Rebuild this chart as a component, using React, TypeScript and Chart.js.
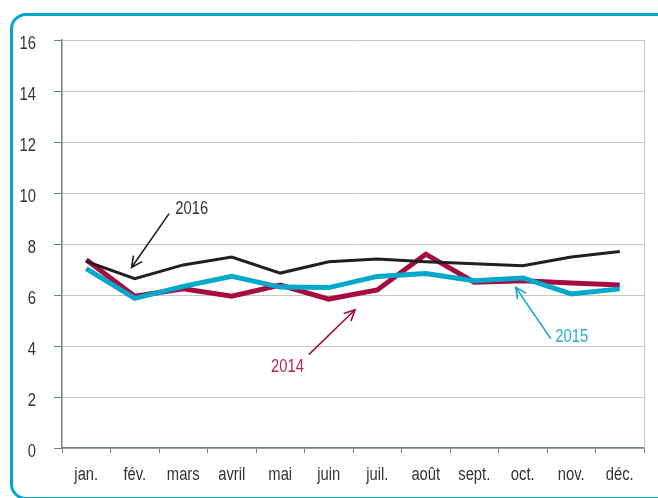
import React, { useEffect, useRef } from "react";
import { Chart, registerables } from "chart.js";

Chart.register(...registerables);

const months = ["jan.", "fév.", "mars", "avril", "mai", "juin", "juil.", "août", "sept.", "oct.", "nov.", "déc."];
const values2014 = [7.38, 5.95, 6.24, 5.95, 6.39, 5.84, 6.2, 7.6, 6.5, 6.56, 6.47, 6.39];
const values2015 = [7.03, 5.87, 6.34, 6.73, 6.31, 6.29, 6.73, 6.84, 6.56, 6.67, 6.04, 6.24];
const values2016 = [7.32, 6.64, 7.18, 7.49, 6.86, 7.3, 7.41, 7.3, 7.23, 7.15, 7.49, 7.71];
const yTicks = [0, 2, 4, 6, 8, 10, 12, 14, 16];

const FONT = "'Liberation Sans', Arial, sans-serif";
const FONT_SIZE = 18;
const NARROW = 0.82; // horizontal squeeze to imitate a condensed face
const C2014 = "#a50d42";
const C2015 = "#00a8cc";
const C2016 = "#231f20";

// annotations in data units (category index, value); text position is baseline centre
const annotations = [
  { label: "2016", color: "#333333", lineColor: "#231f20", text: [2.175, 9.19], tail: [1.708, 9.19], tip: [0.934, 7.08] },
  { label: "2014", color: "#b3265a", lineColor: "#a50d42", text: [4.15, 3.0], tail: [4.588, 3.66], tip: [5.543, 5.42] },
  { label: "2015", color: "#27aed2", lineColor: "#10a8cc", text: [10.01, 4.14], tail: [9.576, 4.29], tip: [8.856, 6.3] },
];

function narrowText(ctx: CanvasRenderingContext2D, text: string, x: number, y: number, align: CanvasTextAlign, color: string) {
  ctx.save();
  ctx.translate(x, y);
  ctx.scale(NARROW, 1);
  ctx.font = `${FONT_SIZE}px ${FONT}`;
  ctx.fillStyle = color;
  ctx.textAlign = align;
  ctx.textBaseline = "alphabetic";
  ctx.fillText(text, 0, 0);
  ctx.restore();
}

const annotationPlugin = {
  id: "annots",
  afterDraw(chart: any) {
    const { ctx, scales, chartArea } = chart;
    const xs = scales.x;
    const ys = scales.y;
    ctx.save();
    // right border
    ctx.strokeStyle = "#c8c8c8";
    ctx.lineWidth = 1;
    ctx.beginPath();
    ctx.moveTo(chartArea.right + 0.5, chartArea.top);
    ctx.lineTo(chartArea.right + 0.5, chartArea.bottom);
    ctx.stroke();
    // tick labels (condensed)
    months.forEach((m, i) => {
      narrowText(ctx, m, xs.getPixelForValue(i), chartArea.bottom + 31.5, "center", "#333333");
    });
    yTicks.forEach((v) => {
      narrowText(ctx, String(v), 36, ys.getPixelForValue(v) + 8.6, "right", "#333333");
    });
    for (const a of annotations) {
      const tx = xs.getPixelForValue(a.tail[0]);
      const ty = ys.getPixelForValue(a.tail[1]);
      const px = xs.getPixelForValue(a.tip[0]);
      const py = ys.getPixelForValue(a.tip[1]);
      ctx.strokeStyle = a.lineColor;
      ctx.lineWidth = 1.6;
      ctx.beginPath();
      ctx.moveTo(tx, ty);
      ctx.lineTo(px, py);
      const ang = Math.atan2(py - ty, px - tx);
      const L = 12;
      const spread = 0.45;
      ctx.moveTo(px - L * Math.cos(ang - spread), py - L * Math.sin(ang - spread));
      ctx.lineTo(px, py);
      ctx.lineTo(px - L * Math.cos(ang + spread), py - L * Math.sin(ang + spread));
      ctx.stroke();
      narrowText(ctx, a.label, xs.getPixelForValue(a.text[0]), ys.getPixelForValue(a.text[1]), "center", a.color);
    }
    ctx.restore();
  },
};

export default function App() {
  const ref = useRef<HTMLCanvasElement | null>(null);
  useEffect(() => {
    document.body.style.margin = "0";
    const chart = new Chart(ref.current as HTMLCanvasElement, {
      type: "line",
      data: {
        labels: months,
        datasets: [
          { label: "2016", data: values2016, borderColor: C2016, borderWidth: 3, pointRadius: 0, tension: 0, order: 0 },
          { label: "2015", data: values2015, borderColor: C2015, borderWidth: 5, pointRadius: 0, tension: 0, order: 1 },
          { label: "2014", data: values2014, borderColor: C2014, borderWidth: 5, pointRadius: 0, tension: 0, order: 2 },
        ],
      },
      options: {
        responsive: false,
        animation: false,
        layout: { padding: { left: 0, right: 14, top: 40, bottom: 0 } },
        plugins: { legend: { display: false }, tooltip: { enabled: false } },
        scales: {
          x: {
            offset: true,
            grid: { display: true, drawOnChartArea: false, drawTicks: true, tickLength: 5, tickColor: "#6f7f8c", offset: true },
            border: { color: "#6f7f8c", width: 1.5 },
            ticks: { display: false, autoSkip: false },
            afterFit(scale: any) { scale.height = 50; },
          },
          y: {
            min: 0,
            max: 16,
            afterBuildTicks(scale: any) { scale.ticks = yTicks.map((v) => ({ value: v })); },
            grid: { color: "#c6c6c6", lineWidth: 1, tickLength: 8, tickColor: "#6f7f8c" },
            border: { color: "#6f7f8c", width: 1.5 },
            ticks: { display: false },
            afterFit(scale: any) { scale.width = 62; },
          },
        },
      },
      plugins: [annotationPlugin],
    });
    return () => chart.destroy();
  }, []);
  return (
    <div style={{ position: "fixed", left: 0, top: 0, width: 658, height: 498, overflow: "hidden", background: "#fff" }}>
      <div style={{ position: "absolute", left: 10, top: 13, width: 700, height: 481, border: "3px solid #00a6cb", borderRadius: 16 }} />
      <canvas ref={ref} width={658} height={498} style={{ position: "absolute", left: 0, top: 0, width: 658, height: 498 }} />
    </div>
  );
}
